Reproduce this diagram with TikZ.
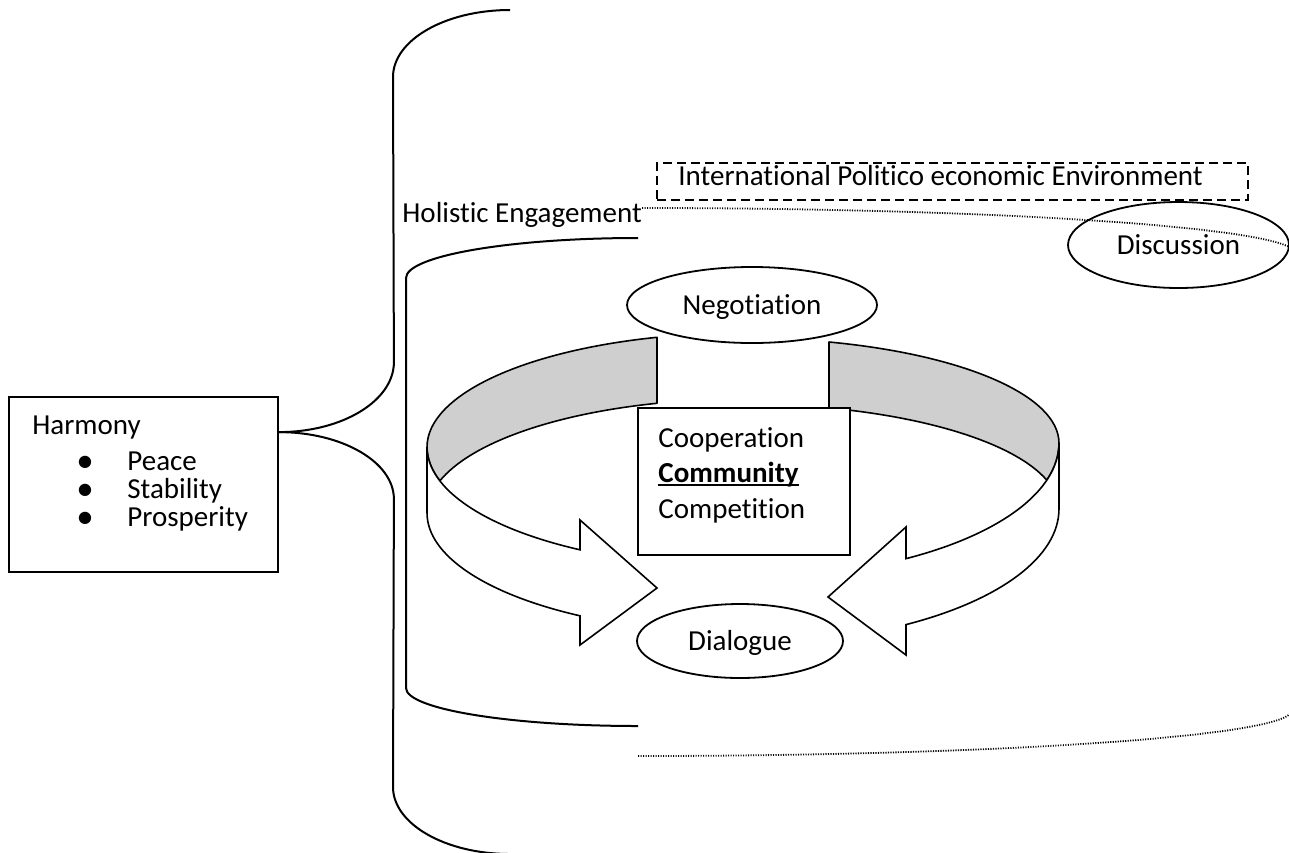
\documentclass[tikz,border=0pt]{standalone}
\usepackage{fontspec}
\setmainfont[Ligatures={NoCommon}]{Carlito}
\usetikzlibrary{shapes.geometric}
\begin{document}
\begin{tikzpicture}[x=0.5pt,y=-0.5pt,
  every node/.style={font=\fontsize{14.5}{17}\selectfont},
  txt/.style={anchor=base west, inner sep=0pt},
  bul/.style={anchor=base, inner sep=0pt},
  brk/.style={line width=1pt},
  oval/.style={ellipse, draw, line width=0.9pt, inner sep=0pt, text height=9pt, text depth=0pt},
  box/.style={rectangle, draw, line width=0.9pt, inner sep=0pt},
  band/.style={draw, line width=0.8pt, fill=black!19, line join=round},
  front/.style={draw, line width=0.8pt, fill=white, line join=miter},
  dots/.style={line width=0.9pt, dash pattern=on 0.55pt off 0.7pt},
  dashbox/.style={rectangle, draw, line width=0.8pt, dash pattern=on 4.5pt off 2.5pt, inner sep=0pt}
]
\clip (0,0) rectangle (1289,852);

% Harmony box
\node[box, minimum width=134.5pt, minimum height=87.5pt] (harmony) at (143.5,484.5) {};
\node[txt] (t-harm) at (32,434) {Harmony};
\node[bul] (b1) at (85,470) {\textbf{•}};
\node[bul] (b2) at (85,498) {\textbf{•}};
\node[bul] (b3) at (85,526) {\textbf{•}};
\node[txt] (t-peace) at (127,470) {Peace};
\node[txt] (t-stab) at (127,498) {Stability};
\node[txt] (t-pros) at (127,526) {Prosperity};

% big bracket
\coordinate (j) at ([yshift=-18pt]harmony.north east);
\draw[brk] (j) arc[start angle=90, end angle=0, x radius=115, y radius=70] -- (393,77)
  arc[start angle=180, end angle=270, x radius=117, y radius=67];
\draw[brk] (j) arc[start angle=270, end angle=360, x radius=115, y radius=67] -- (393,787)
  arc[start angle=180, end angle=90, x radius=117, y radius=67];

% inner bracket
\draw[brk] (638,238) arc[start angle=270, end angle=180, x radius=232, y radius=40] -- (406,688)
  arc[start angle=180, end angle=90, x radius=232, y radius=38];

% dotted cylinder edges
\draw[dots] (642,208) arc[start angle=270, end angle=360, x radius=653, y radius=45];
\draw[dots] (638,756) arc[start angle=90, end angle=0, x radius=653, y radius=45];

\node[txt] (holistic) at (402,222) {Holistic Engagement};

% environment box
\node[dashbox, minimum width=295.5pt, minimum height=18.5pt] (envbox) at (952.5,181.5) {};
\node[txt] (envtxt) at (678,185) {International Politico economic Environment};

% ovals
\node[oval, minimum width=110.5pt, minimum height=43pt] (disc) at (1178.5,245) {Discussion};
\node[oval, minimum width=125pt, minimum height=38pt] (nego) at (752,305) {Negotiation};
\node[oval, minimum width=103pt, minimum height=37pt] (dial) at (740,641) {Dialogue};

% left curved arrow
\path[band] (657,337.3) arc[start angle=254.2, end angle=180, x radius=316, y radius=114]
  arc[start angle=180, end angle=163.62, x radius=316, y radius=120]
  arc[start angle=196.38, end angle=254.2, x radius=316, y radius=114] -- cycle;
\path[front] (427,447) arc[start angle=180, end angle=121.06, x radius=316, y radius=120]
  -- (580,520) -- (657,588) -- (580,645) -- (580,615.8)
  arc[start angle=121.06, end angle=180, x radius=316, y radius=120] -- cycle;

% right curved arrow
\path[band] (829,342) arc[start angle=285.8, end angle=360, x radius=316, y radius=105]
  arc[start angle=0, end angle=15.96, x radius=316, y radius=135]
  arc[start angle=344.04, end angle=285.8, x radius=316, y radius=105] -- cycle;
\path[front] (1059,443) arc[start angle=0, end angle=58.94, x radius=316, y radius=135]
  -- (906,527) -- (828,597) -- (906,655) -- (906,624.6)
  arc[start angle=58.94, end angle=0, x radius=316, y radius=135] -- cycle;

% central box
\node[box, fill=white, minimum width=106pt, minimum height=73.5pt] (core) at (744,481.5) {};
\node[txt] (coop) at (658,447) {Cooperation};
\node[txt, font=\fontsize{14.5}{17}\selectfont\bfseries] (comm) at (658,482) {Community};
\draw[line width=1pt] ([yshift=-1.6pt]comm.base west) -- ([yshift=-1.6pt]comm.base east);
\node[txt] (comp) at (658,518) {Competition};
\end{tikzpicture}
\end{document}
